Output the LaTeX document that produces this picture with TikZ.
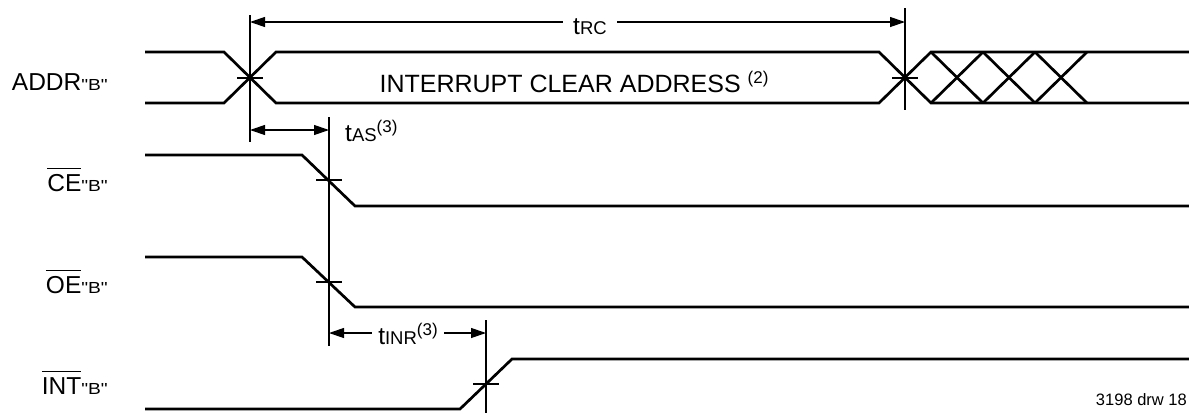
\documentclass[tikz,border=0pt]{standalone}
\usepackage{fontspec}
\setmainfont{Liberation Sans}
\newfontfamily\widefont[FakeStretch=1.2]{Liberation Sans}
\usetikzlibrary{arrows.meta}

\newcommand{\sigB}{{\widefont\fontsize{16}{16}\selectfont"B"}}
\newcommand{\tsub}[1]{{\fontsize{18.5}{18.5}\selectfont #1}}
\newcommand{\fnote}[1]{\raisebox{9pt}{\fontsize{17}{17}\selectfont(#1)}}
\newcommand{\ovl}[1]{\leavevmode\setbox0\hbox{#1}\rlap{\raisebox{22pt}{\rule{\wd0}{1.4pt}}}\box0}

\begin{document}
\begin{tikzpicture}[x=1pt,y=-1pt,
    wave/.style={line width=2.7pt},
    guide/.style={line width=1.2pt},
    dim/.style={guide,{Triangle[length=15pt,width=10pt]}-{Triangle[length=15pt,width=10pt]}},
    siglabel/.style={anchor=base east,inner sep=0pt,font=\fontsize{24.5}{24.5}\selectfont},
    timing/.style={inner sep=0pt,font=\fontsize{24.5}{24.5}\selectfont}]
  \useasboundingbox (0,0) rectangle (1189,413);

  % signal names
  \node[siglabel] (addr) at (108,90)  {ADDR\sigB};
  \node[siglabel] (ce)   at (108,191) {\ovl{CE}\sigB};
  \node[siglabel] (oe)   at (108,293) {\ovl{OE}\sigB};
  \node[siglabel] (int)  at (108,394) {\ovl{INT}\sigB};

  % crossing points
  \coordinate (a0) at (250,78);
  \coordinate (a1) at (905,78);
  \coordinate (c0) at (329,180);
  \coordinate (o0) at (329,282);
  \coordinate (i0) at (486,384);

  % waveforms
  \draw[wave] (145,52) -- (224,52) -- (276,103) -- (879,103) -- (931,52) -- (1189,52);
  \draw[wave] (145,103) -- (224,103) -- (276,52) -- (879,52) -- (931,103) -- (1189,103);
  \foreach \x in {931,983,1035} {
    \draw[wave] (\x,52) -- (\x+52,103);
    \draw[wave] (\x,103) -- (\x+52,52);
  }
  \draw[wave] (145,155) -- (302,155) -- (355,206) -- (1189,206);
  \draw[wave] (145,257) -- (302,257) -- (355,307) -- (1189,307);
  \draw[wave] (145,409) -- (460,409) -- (512,359) -- (1189,359);

  \node[anchor=base,inner sep=0pt,font=\fontsize{25}{25}\selectfont] (ica) at (574,92)
    {INTERRUPT CLEAR ADDRESS \fnote{2}};

  % reference lines and ticks
  \draw[guide] (250,15) -- (250,142);
  \draw[guide] (905,8) -- (905,110);
  \draw[guide] (329,117) -- (329,346);
  \draw[guide] (486,320) -- (486,413);
  \foreach \p in {a0,a1,c0,o0,i0}
    \draw[guide] (\p) ++(-13,0) -- ++(26,0);

  % timing parameters
  \coordinate (rcL) at (250,22);
  \coordinate (rcR) at (905,22);
  \draw[dim] (rcL) -- (rcR);
  \node[timing,fill=white,inner xsep=10pt,inner ysep=2pt,anchor=base] (trc) at (590,34) {t\tsub{RC}};

  \coordinate (asL) at (250,130);
  \coordinate (asR) at (329,130);
  \draw[dim] (asL) -- (asR);
  \node[timing,anchor=base west] (tas) at (345,141) {t\tsub{AS}\fnote{3}};

  \coordinate (nrL) at (329,333);
  \coordinate (nrR) at (486,333);
  \draw[dim] (nrL) -- (nrR);
  \node[timing,fill=white,inner xsep=6pt,inner ysep=2pt,anchor=base] (tnr) at (408,344) {t\tsub{INR}\fnote{3}};

  \node[anchor=base east,inner sep=0pt,font=\fontsize{16.5}{16.5}\selectfont] (drw) at (1187,405) {3198 drw 18};
\end{tikzpicture}
\end{document}
